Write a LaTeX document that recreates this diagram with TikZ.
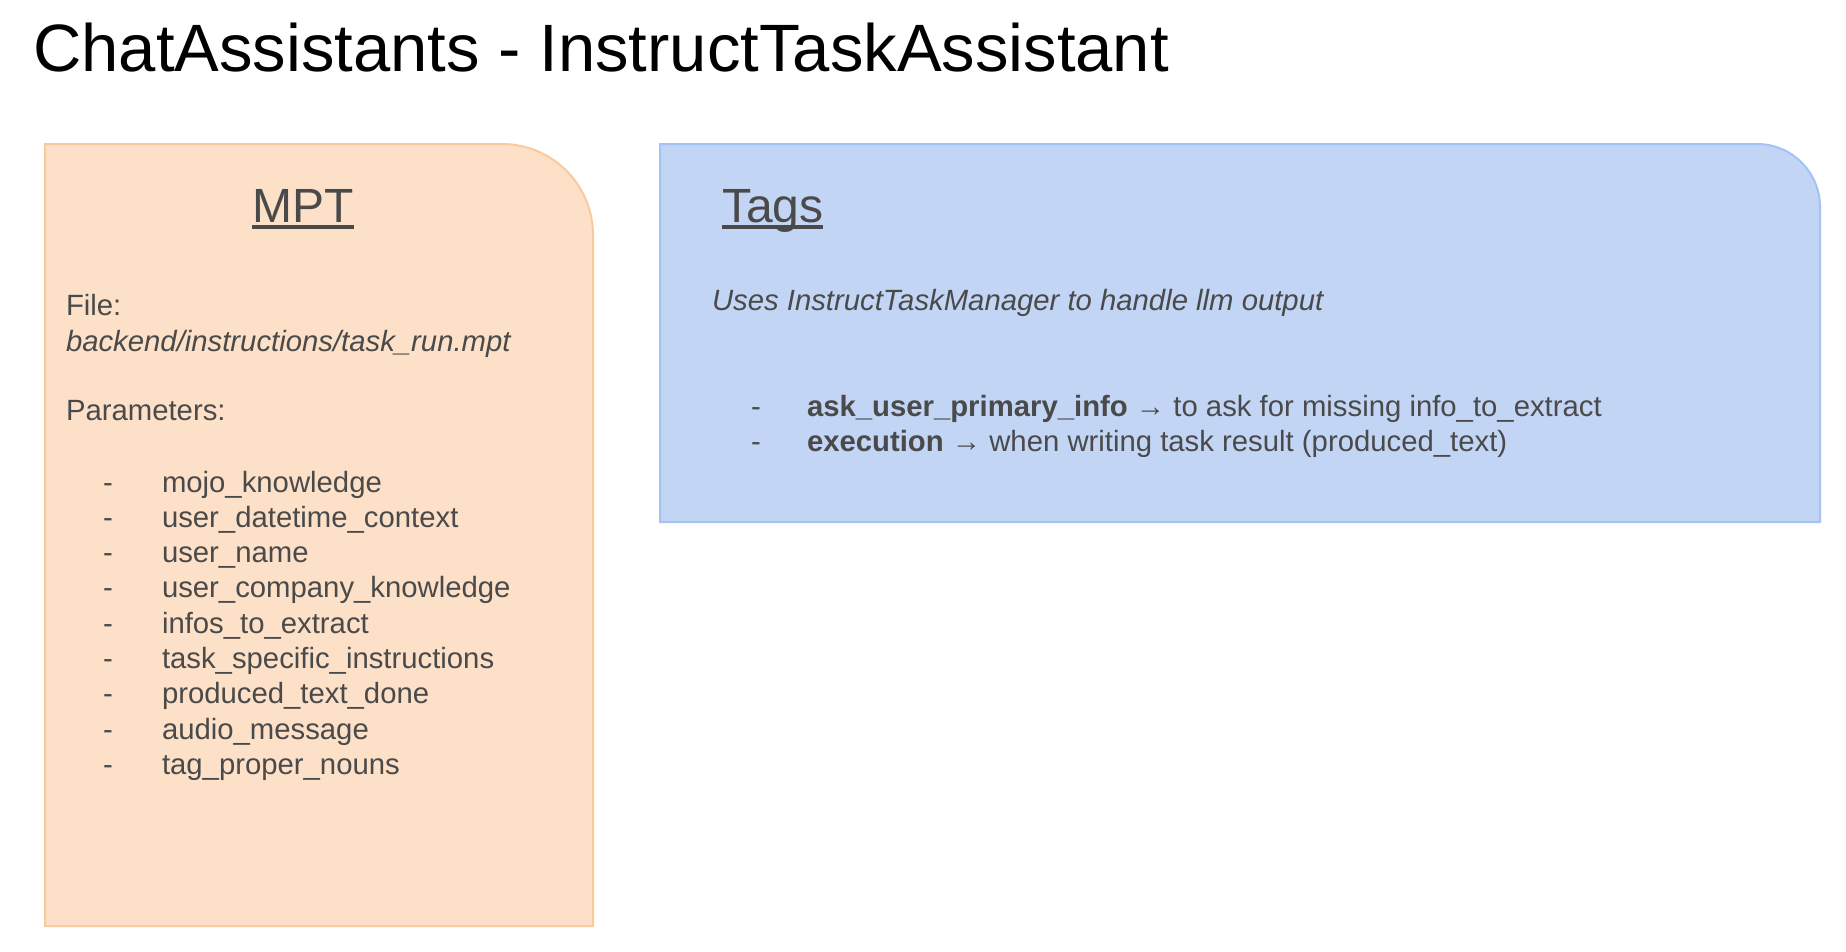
\documentclass[tikz,border=0pt]{standalone}
\usepackage{fontspec}
\setmainfont{Liberation Sans}
\definecolor{txt}{HTML}{4A4A4A}
\definecolor{peachfill}{HTML}{FCE0C8}
\definecolor{peachline}{HTML}{F9CB9C}
\definecolor{bluefill}{HTML}{C2D5F4}
\definecolor{blueline}{HTML}{A4C2F4}
\tikzset{
  body/.style={anchor=base west, inner sep=0pt, outer sep=0pt, text=txt, font=\fontsize{29.3}{35}\selectfont},
  head/.style={anchor=base west, inner sep=0pt, outer sep=0pt, text=txt, font=\fontsize{48}{56}\selectfont},
  uline/.style={draw=txt, line width=3.5pt},
}
\begin{document}
\begin{tikzpicture}[x=1pt,y=-1pt]
\useasboundingbox[fill=white] (0,0) rectangle (1846,951);
% title
\node[anchor=base west, inner sep=0pt, font=\fontsize{67}{80}\selectfont, text=black] (title) at (33,71) {ChatAssistants - InstructTaskAssistant};
% MPT box
\draw[fill=peachfill, draw=peachline, line width=2pt] (45,926) -- (45,144) -- (502,144) arc[start angle=90, end angle=0, radius=91pt] -- (593,926) -- cycle;
% Tags box
\draw[fill=bluefill, draw=blueline, line width=2pt] (660,522) -- (660,144) -- (1757,144) arc[start angle=90, end angle=0, radius=63pt] -- (1820,522) -- cycle;
% MPT content
\node[head, anchor=base] (mpt) at (303,222) {MPT};
\draw[uline] ([yshift=-5pt]mpt.base west) -- ([yshift=-5pt]mpt.base east);
\node[body] (file) at (66,315) {File:};
\node[body] (path) at (66,351) {\itshape backend/instructions/task\_run.mpt};
\node[body] (params) at (66,420) {Parameters:};
\foreach \t [count=\i from 0] in {mojo\_knowledge, user\_datetime\_context, user\_name, user\_company\_knowledge, infos\_to\_extract, task\_specific\_instructions, produced\_text\_done, audio\_message, tag\_proper\_nouns}{
  \node[body] (d\i) at (103,492+35.3*\i) {-};
  \node[body] (p\i) at (162,492+35.3*\i) {\t};
}
% Tags content
\node[head] (tags) at (722,222) {Tags};
\draw[uline] ([yshift=-5pt]tags.base west) -- ([yshift=-5pt]tags.base east);
\node[body] (uses) at (712,310) {\itshape Uses InstructTaskManager to handle llm output};
\node[body] (td1) at (751,416) {-};
\node[body] (tt1) at (807,416) {\textbf{ask\_user\_primary\_info} → to ask for missing info\_to\_extract};
\node[body] (td2) at (751,451) {-};
\node[body] (tt2) at (807,451) {\textbf{execution} → when writing task result (produced\_text)};
\end{tikzpicture}
\end{document}
